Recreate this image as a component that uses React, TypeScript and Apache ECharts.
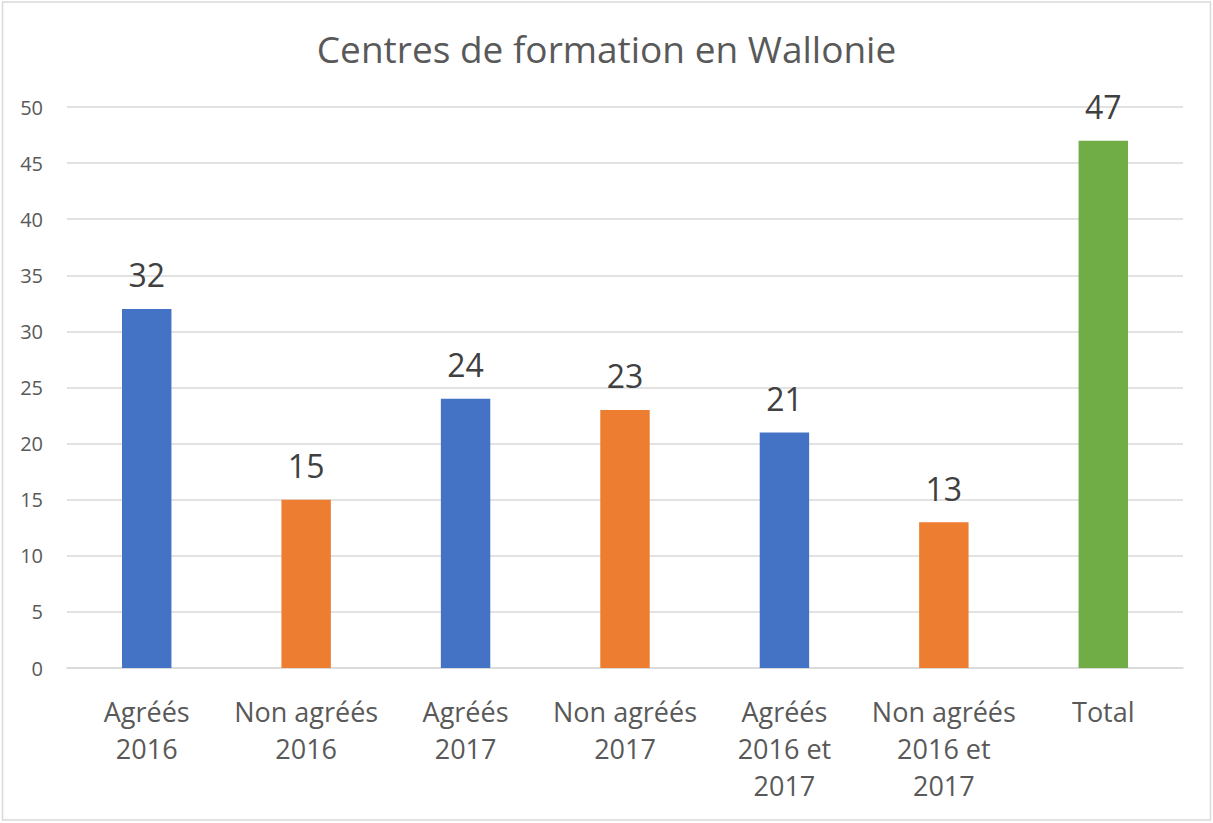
import React, { useEffect, useRef } from "react";
import * as echarts from "echarts";

const categories = [
  "Agréés\n2016",
  "Non agréés\n2016",
  "Agréés\n2017",
  "Non agréés\n2017",
  "Agréés\n2016 et\n2017",
  "Non agréés\n2016 et\n2017",
  "Total",
];
const values = [32, 15, 24, 23, 21, 13, 47];
const barColors = ["#4472C4", "#ED7D31", "#4472C4", "#ED7D31", "#4472C4", "#ED7D31", "#70AD47"];
const title = "Centres de formation en Wallonie";

export default function App() {
  const ref = useRef<HTMLDivElement>(null);
  useEffect(() => {
    if (!ref.current) return;
    const chart = echarts.init(ref.current, null, { renderer: "svg" });
    const font = "Open Sans";
    chart.setOption({
      animation: false,
      backgroundColor: "#ffffff",
      title: {
        text: title,
        left: "center",
        top: 25,
        textStyle: { fontFamily: font, fontSize: 37, fontWeight: "normal", color: "#595959" },
      },
      graphic: [
        {
          type: "rect",
          shape: { x: 2.5, y: 2, width: 1208, height: 818 },
          style: { fill: "none", stroke: "#d9d9d9", lineWidth: 1.5 },
          silent: true,
        },
      ],
      grid: { left: 67, right: 30, top: 107, bottom: 155, containLabel: false },
      xAxis: {
        type: "category",
        data: categories,
        axisLine: { lineStyle: { color: "#d9d9d9", width: 1.5 } },
        axisTick: { show: false },
        axisLabel: {
          interval: 0,
          margin: 25,
          fontFamily: font,
          fontSize: 27,
          lineHeight: 37,
          color: "#595959",
        },
      },
      yAxis: {
        type: "value",
        min: 0,
        max: 50,
        interval: 5,
        axisLine: { show: false },
        axisTick: { show: false },
        splitLine: { lineStyle: { color: "#d9d9d9", width: 1.5 } },
        axisLabel: { margin: 24, fontFamily: font, fontSize: 20, color: "#595959" },
      },
      series: [
        {
          type: "bar",
          barWidth: "31%",
          data: values.map((v, i) => ({ value: v, itemStyle: { color: barColors[i] } })),
          label: {
            show: true,
            position: "top",
            distance: 18,
            fontFamily: font,
            fontSize: 32,
            color: "#404040",
          },
        },
      ],
    });
    return () => chart.dispose();
  }, []);
  return (
    <div
      ref={ref}
      style={{ position: "fixed", left: 0, top: 0, width: 1213, height: 823 }}
    />
  );
}
